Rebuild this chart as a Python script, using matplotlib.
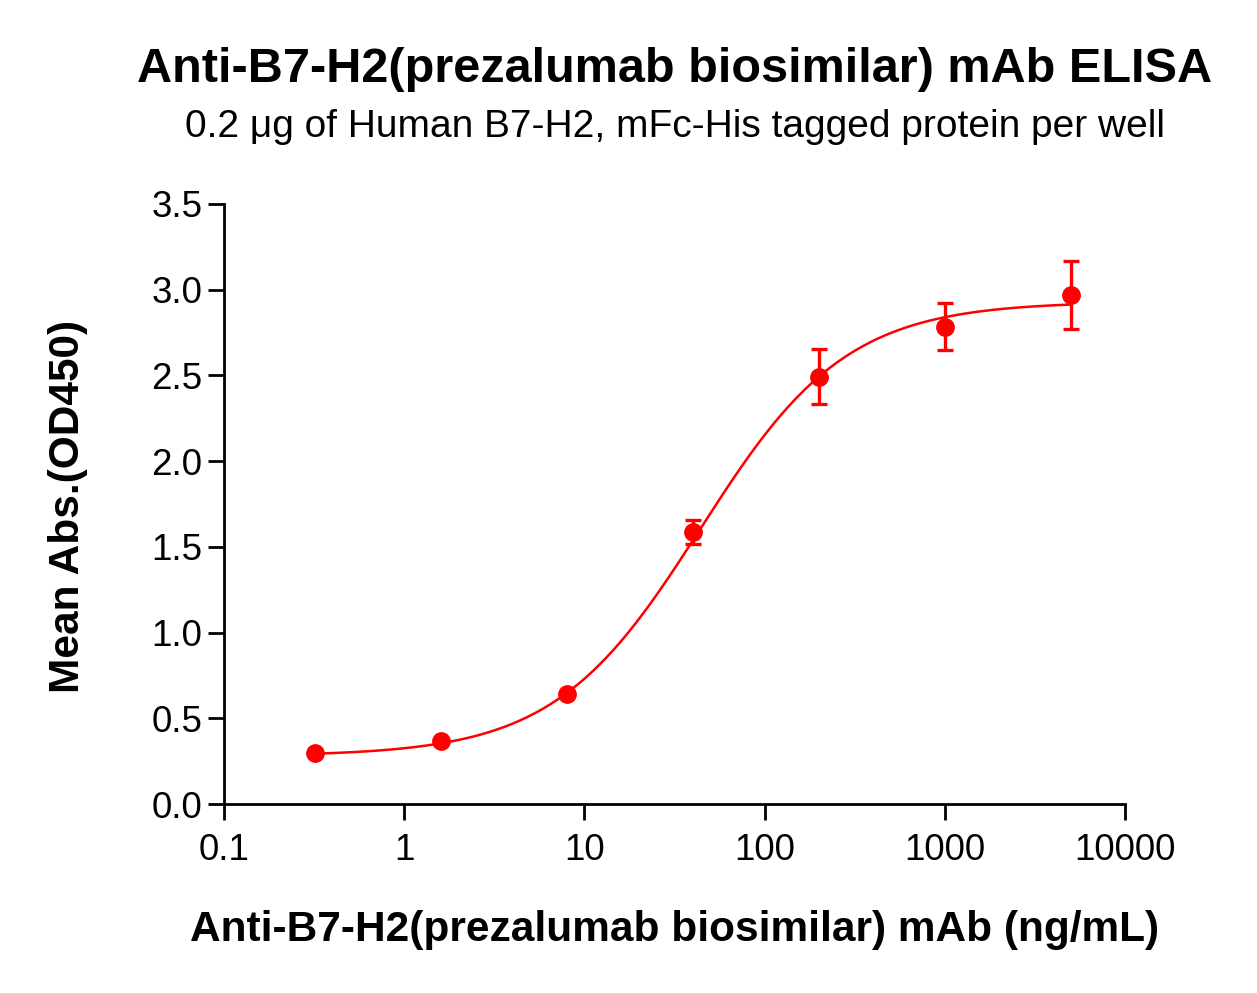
import numpy as np
import matplotlib
matplotlib.use("Agg")
import matplotlib.pyplot as plt
from matplotlib.ticker import FixedLocator, NullLocator

plt.rcParams['font.family'] = ['Liberation Sans', 'DejaVu Sans']

conc = [0.32, 1.6, 8, 40, 200, 1000, 5000]
mean_abs = [0.296, 0.366, 0.640, 1.589, 2.493, 2.785, 2.970]
sd_abs = [0.0, 0.0, 0.0, 0.07, 0.162, 0.139, 0.200]

# 4PL fit parameters (bottom, top, EC50, hill)
bottom, top, ec50, hill = 0.28, 2.93, 44.0, 1.07

x_ticks = [0.1, 1, 10, 100, 1000, 10000]
x_tick_labels = ['0.1', '1', '10', '100', '1000', '10000']
y_ticks = [0.0, 0.5, 1.0, 1.5, 2.0, 2.5, 3.0, 3.5]

red = '#ff0000'

fig = plt.figure(figsize=(12.57, 9.93), dpi=100)
ax = fig.add_axes([0.1782, 0.1903, 0.7168, 0.6043])

xfit = np.logspace(np.log10(conc[0]), np.log10(conc[-1]), 300)
yfit = bottom + (top - bottom) / (1 + (ec50 / xfit) ** hill)
ax.plot(xfit, yfit, color=red, lw=1.8, zorder=2)

ax.errorbar(conc, mean_abs, yerr=sd_abs, fmt='o', color=red, ms=12.5,
            elinewidth=2.4, capsize=6, capthick=2.4, zorder=3)

ax.set_xscale('log')
ax.set_xlim(0.1, 10000)
ax.set_ylim(0, 3.5)
ax.xaxis.set_major_locator(FixedLocator(x_ticks))
ax.xaxis.set_minor_locator(NullLocator())
ax.set_xticklabels(x_tick_labels)
ax.set_yticks(y_ticks)
ax.set_yticklabels([f'{v:.1f}' for v in y_ticks])

for side in ['top', 'right']:
    ax.spines[side].set_visible(False)
for side in ['left', 'bottom']:
    ax.spines[side].set_linewidth(2.0)
ax.tick_params(axis='both', length=11.5, width=2.0, labelsize=26.5)
ax.tick_params(axis='x', pad=9)
ax.tick_params(axis='y', pad=4)

fig.text(675 / 1257, 1 - 930 / 993, 'Anti-B7-H2(prezalumab biosimilar) mAb (ng/mL)',
         ha='center', va='center', fontsize=30.5, fontweight='bold')
fig.text(68 / 1257, 1 - 506 / 993, 'Mean Abs.(OD450)', rotation=90,
         ha='center', va='center', fontsize=30.5, fontweight='bold')

fig.text(675 / 1257, 1 - 70 / 993, 'Anti-B7-H2(prezalumab biosimilar) mAb ELISA',
         ha='center', va='center', fontsize=35, fontweight='bold')
fig.text(675 / 1257, 1 - 127 / 993, '0.2 μg of Human B7-H2, mFc-His tagged protein per well',
         ha='center', va='center', fontsize=28)

fig.savefig('out.png', dpi=100)
